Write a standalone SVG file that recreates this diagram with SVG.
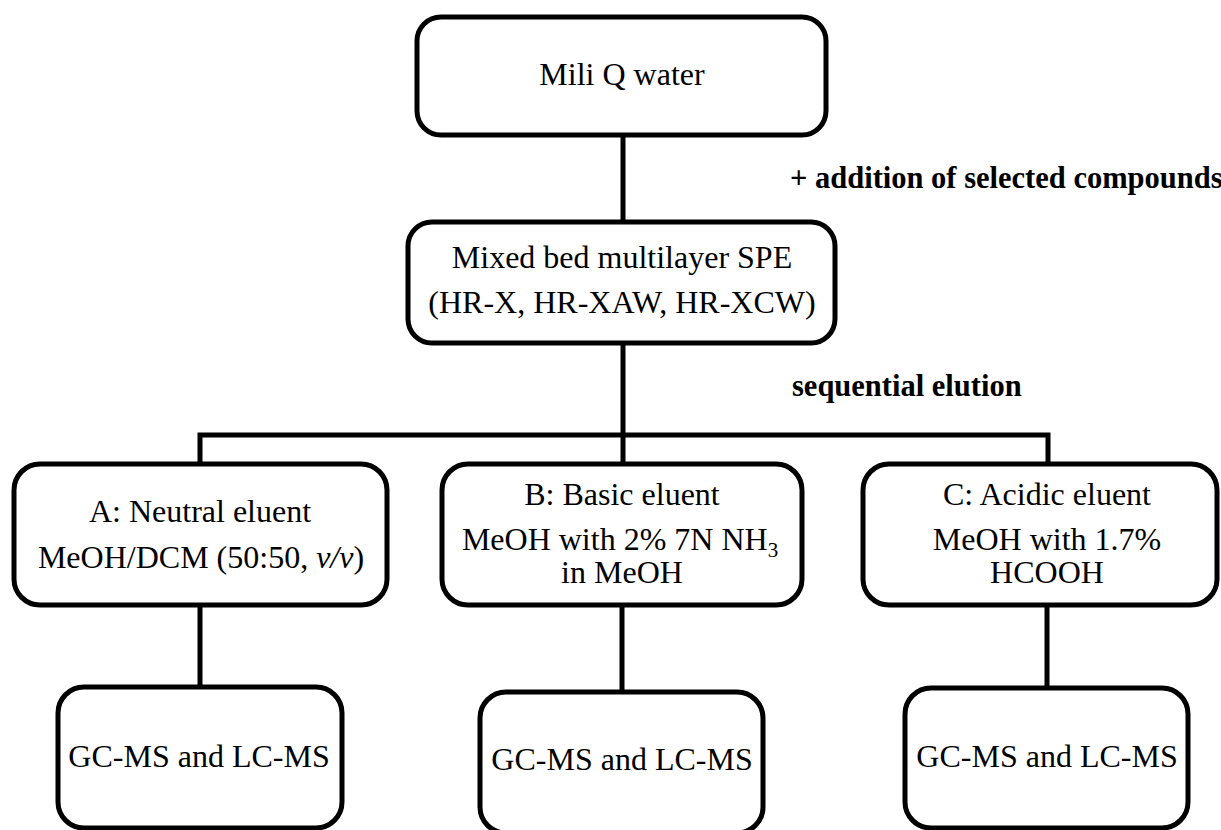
<svg xmlns="http://www.w3.org/2000/svg" width="1221" height="830" viewBox="0 0 1221 830">
<style>
.box{fill:#fff;stroke:#000;stroke-width:5}
.t{font-family:"Liberation Serif","Times New Roman",serif;font-size:32px;fill:#000;text-anchor:middle}
.b{font-family:"Liberation Serif","Times New Roman",serif;font-size:30.5px;font-weight:bold;fill:#000}
.c{stroke:#000;stroke-width:5;fill:none}
</style>
<rect width="1221" height="830" fill="#fff"/>
<g id="connectors">
<line class="c" x1="623" y1="135" x2="623" y2="222"/>
<line class="c" x1="623" y1="343" x2="623" y2="464"/>
<polyline class="c" points="200,464 200,435 1048,435 1048,464"/>
<line class="c" x1="200" y1="605" x2="200" y2="687"/>
<line class="c" x1="622" y1="605" x2="622" y2="692"/>
<line class="c" x1="1047" y1="605" x2="1047" y2="688"/>
</g>
<g id="labels">
<text class="b" x="790" y="188">+ addition of selected compounds</text>
<text class="b" x="792" y="396">sequential elution</text>
</g>
<g id="node-water">
<rect class="box" x="417" y="17" width="409" height="118" rx="24"/>
<text class="t" x="622" y="85">Mili Q water</text>
</g>
<g id="node-spe">
<rect class="box" x="408" y="222" width="427" height="121" rx="24"/>
<text class="t" x="622" y="268">Mixed bed multilayer SPE</text>
<text class="t" x="622" y="313">(HR-X, HR-XAW, HR-XCW)</text>
</g>
<g id="node-a">
<rect class="box" x="14" y="464" width="373" height="141" rx="26"/>
<text class="t" x="200" y="522">A: Neutral eluent</text>
<text class="t" x="201" y="568">MeOH/DCM (50:50, <tspan font-style="italic">v/v</tspan>)</text>
</g>
<g id="node-b">
<rect class="box" x="442" y="464" width="360" height="141" rx="26"/>
<text class="t" x="622" y="505">B: Basic eluent</text>
<text class="t" x="620" y="550">MeOH with 2% 7N NH<tspan font-size="21" dy="7">3</tspan></text>
<text class="t" x="622" y="583">in MeOH</text>
</g>
<g id="node-c">
<rect class="box" x="863" y="464" width="354" height="141" rx="26"/>
<text class="t" x="1047" y="505">C: Acidic eluent</text>
<text class="t" x="1047" y="550">MeOH with 1.7%</text>
<text class="t" x="1047" y="583">HCOOH</text>
</g>
<g id="node-a-out">
<rect class="box" x="58" y="687" width="284" height="141" rx="26"/>
<text class="t" x="199" y="767">GC-MS and LC-MS</text>
</g>
<g id="node-b-out">
<rect class="box" x="480" y="692" width="283" height="141" rx="26"/>
<text class="t" x="622" y="770">GC-MS and LC-MS</text>
</g>
<g id="node-c-out">
<rect class="box" x="905" y="688" width="283" height="140" rx="26"/>
<text class="t" x="1047" y="767">GC-MS and LC-MS</text>
</g>
</svg>
